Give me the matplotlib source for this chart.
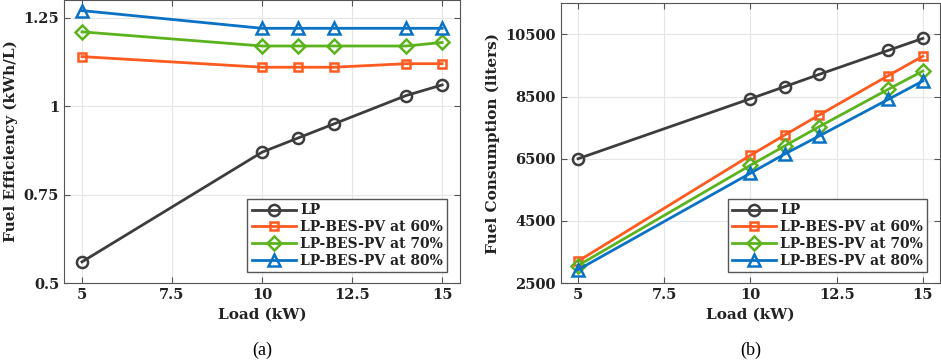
import matplotlib
matplotlib.use("Agg")
import matplotlib.pyplot as plt

# data
load_kw = [5, 10, 11, 12, 14, 15]

eff_lp = [0.56, 0.87, 0.91, 0.95, 1.03, 1.06]
eff_60 = [1.14, 1.11, 1.11, 1.11, 1.12, 1.12]
eff_70 = [1.21, 1.17, 1.17, 1.17, 1.17, 1.18]
eff_80 = [1.27, 1.22, 1.22, 1.22, 1.22, 1.22]

fuel_lp = [6500, 8430, 8820, 9215, 9985, 10370]
fuel_60 = [3205, 6610, 7265, 7910, 9175, 9795]
fuel_70 = [3065, 6290, 6915, 7535, 8735, 9320]
fuel_80 = [2930, 6035, 6655, 7235, 8410, 9000]

series_labels = ["LP", "LP-BES-PV at 60%", "LP-BES-PV at 70%", "LP-BES-PV at 80%"]
colors = ["#3d3d3d", "#ff5a1f", "#5cb31e", "#0a72c4"]
markers = ["o", "s", "D", "^"]
msizes = [8, 6, 7, 9]

plt.rcParams["font.family"] = ["DejaVu Serif"]
plt.rcParams["font.weight"] = "bold"

fig = plt.figure(figsize=(9.41, 3.62), dpi=100)
ax1 = fig.add_axes([0.068, 0.218, 0.421, 0.782])
ax2 = fig.add_axes([0.596, 0.218, 0.403, 0.773])


def draw(ax, ys, ylabel, ylim, yticks, yticklabels):
    for y, lab, c, m, ms in zip(ys, series_labels, colors, markers, msizes):
        ax.plot(load_kw, y, color=c, marker=m, markersize=ms, markerfacecolor="none",
                markeredgewidth=1.8, linewidth=2, label=lab)
    ax.set_xlim(4.5, 15.5)
    ax.set_ylim(*ylim)
    ax.set_xticks([5, 7.5, 10, 12.5, 15])
    ax.set_xticklabels(["5", "7.5", "10", "12.5", "15"])
    ax.set_yticks(yticks)
    ax.set_yticklabels(yticklabels)
    ax.grid(True, color="#e6e6e6", linewidth=0.8)
    ax.set_axisbelow(True)
    ax.tick_params(direction="in", top=True, right=True, labelsize=10.5, length=4,
                   color="#555555", labelcolor="#222222")
    for sp in ax.spines.values():
        sp.set_color("#555555")
    ax.set_xlabel("Load (kW)", fontsize=11, fontweight="bold", color="#222222")
    ax.set_ylabel(ylabel, fontsize=11, fontweight="bold", color="#222222")
    leg = ax.legend(loc="lower right", bbox_to_anchor=(0.985, 0.015), fontsize=10,
                    handlelength=3.2, borderpad=0.3, labelspacing=0.2,
                    handletextpad=0.3, fancybox=False, framealpha=1)
    leg.get_frame().set_edgecolor("#555555")
    for t in leg.get_texts():
        t.set_color("#222222")


draw(ax1, [eff_lp, eff_60, eff_70, eff_80], "Fuel Efficiency (kWh/L)",
     (0.5, 1.3), [0.5, 0.75, 1, 1.25], ["0.5", "0.75", "1", "1.25"])
draw(ax2, [fuel_lp, fuel_60, fuel_70, fuel_80], "Fuel Consumption (liters)",
     (2500, 11500), [2500, 4500, 6500, 8500, 10500],
     ["2500", "4500", "6500", "8500", "10500"])

fig.text(262 / 941, 1 - 350 / 362, "(a)", ha="center", va="center", fontsize=13,
         fontweight="normal", family="Liberation Serif")
fig.text(751 / 941, 1 - 350 / 362, "(b)", ha="center", va="center", fontsize=13,
         fontweight="normal", family="Liberation Serif")

fig.savefig("out.png", dpi=100)
